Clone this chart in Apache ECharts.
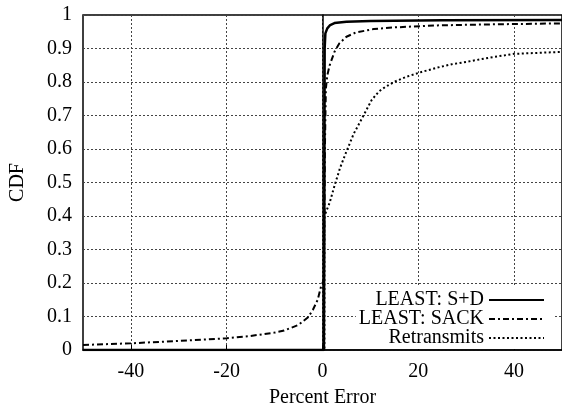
<!DOCTYPE html>
<html>
<head>
<meta charset="utf-8">
<script src="https://cdn.jsdelivr.net/npm/echarts@6/dist/echarts.min.js"></script>
<style>
  html, body { margin: 0; padding: 0; background: #fff; }
  #main { width: 562px; height: 413px; }
</style>
</head>
<body>
<div id="main"></div>
<script>
// tick labels
var xTicks = [-40, -20, 0, 20, 40];

// LEAST: S+D  [percent error, cdf]
var sdPoints = [
  [-50, 0], [0.3, 0], [0.4, 0.5], [0.45, 0.9], [0.6, 0.945], [1, 0.96],
  [1.6, 0.97], [2.5, 0.976], [5, 0.98], [10, 0.982], [25, 0.984], [50, 0.985]
];

// LEAST: SACK
var sackPoints = [
  [-50, 0.015], [-40, 0.02], [-30, 0.027], [-20, 0.035], [-15, 0.042],
  [-10, 0.052], [-8, 0.058], [-5, 0.075], [-3, 0.098], [-2, 0.12],
  [-1, 0.15], [-0.3, 0.19], [0.3, 0.21], [0.5, 0.6], [0.7, 0.78],
  [1, 0.82], [1.5, 0.85], [2.5, 0.89], [3.5, 0.915], [5, 0.935],
  [7, 0.948], [10.7, 0.958], [15, 0.963], [24, 0.969], [35, 0.972], [50, 0.975]
];

// Retransmits
var retransPoints = [
  [-50, 0], [0.4, 0], [0.4, 0.4], [1.5, 0.44], [2.5, 0.49], [3.7, 0.545],
  [4.9, 0.589], [6.5, 0.645], [8.3, 0.693], [10.3, 0.747], [11.8, 0.772],
  [13.2, 0.786], [15.2, 0.802], [17.4, 0.815], [20.7, 0.83], [24, 0.843],
  [27, 0.853], [30, 0.86], [35, 0.873], [40, 0.884], [50, 0.89]
];

var chartDom = document.getElementById('main');
var myChart = echarts.init(chartDom);
var font = 'Liberation Serif';

var option = {
  backgroundColor: '#fff',
  animation: false,
  textStyle: { fontFamily: font },
  grid: {
    left: 81,
    right: -3,
    top: 15,
    bottom: 62,
    show: true,
    borderColor: '#000',
    borderWidth: 1.5
  },
  legend: {
    orient: 'vertical',
    align: 'right',
    right: 7,
    top: 286,
    padding: [4, 10, 1, 3],
    backgroundColor: '#fff',
    itemWidth: 55,
    itemHeight: 14,
    itemGap: -1,
    itemStyle: { opacity: 0 },
    textStyle: { fontFamily: font, fontSize: 20, color: '#000' },
    data: ['LEAST: S+D', 'LEAST: SACK', 'Retransmits']
  },
  xAxis: {
    type: 'value',
    min: -50,
    max: 50,
    name: 'Percent Error',
    nameLocation: 'middle',
    nameGap: 38,
    nameTextStyle: { fontFamily: font, fontSize: 20, color: '#000' },
    axisLine: { lineStyle: { color: '#000', width: 1.5 } },
    axisTick: { inside: true, length: 5, customValues: xTicks, lineStyle: { color: '#000' } },
    axisLabel: { customValues: xTicks, fontFamily: font, fontSize: 20, color: '#000', margin: 12 },
    splitLine: { show: true, lineStyle: { color: '#444', type: [2, 2], width: 1 } }
  },
  yAxis: {
    type: 'value',
    min: 0,
    max: 1,
    interval: 0.1,
    name: 'CDF',
    nameLocation: 'middle',
    nameGap: 55,
    nameTextStyle: { fontFamily: font, fontSize: 20, color: '#000' },
    axisLine: { show: true, lineStyle: { color: '#000', width: 1.5 } },
    axisTick: { show: false },
    axisLabel: {
      fontFamily: font, fontSize: 20, color: '#000', margin: 11,
      formatter: function (v) { return String(Math.round(v * 10) / 10); }
    },
    splitLine: { show: true, lineStyle: { color: '#444', type: [2, 2], width: 1 } }
  },
  series: [
    {
      name: 'LEAST: S+D',
      type: 'line',
      showSymbol: false,
      symbol: 'none',
      lineStyle: { color: '#000', width: 2.5, type: 'solid' },
      itemStyle: { color: '#000' },
      data: sdPoints
    },
    {
      name: 'LEAST: SACK',
      type: 'line',
      showSymbol: false,
      symbol: 'none',
      lineStyle: { color: '#000', width: 2, type: [6, 3, 2, 3] },
      itemStyle: { color: '#000' },
      data: sackPoints
    },
    {
      name: 'Retransmits',
      type: 'line',
      showSymbol: false,
      symbol: 'none',
      lineStyle: { color: '#000', width: 2, type: [2, 2.5] },
      itemStyle: { color: '#000' },
      data: retransPoints
    }
  ]
};

option && myChart.setOption(option);
window.addEventListener('resize', myChart.resize);
</script>
</body>
</html>
